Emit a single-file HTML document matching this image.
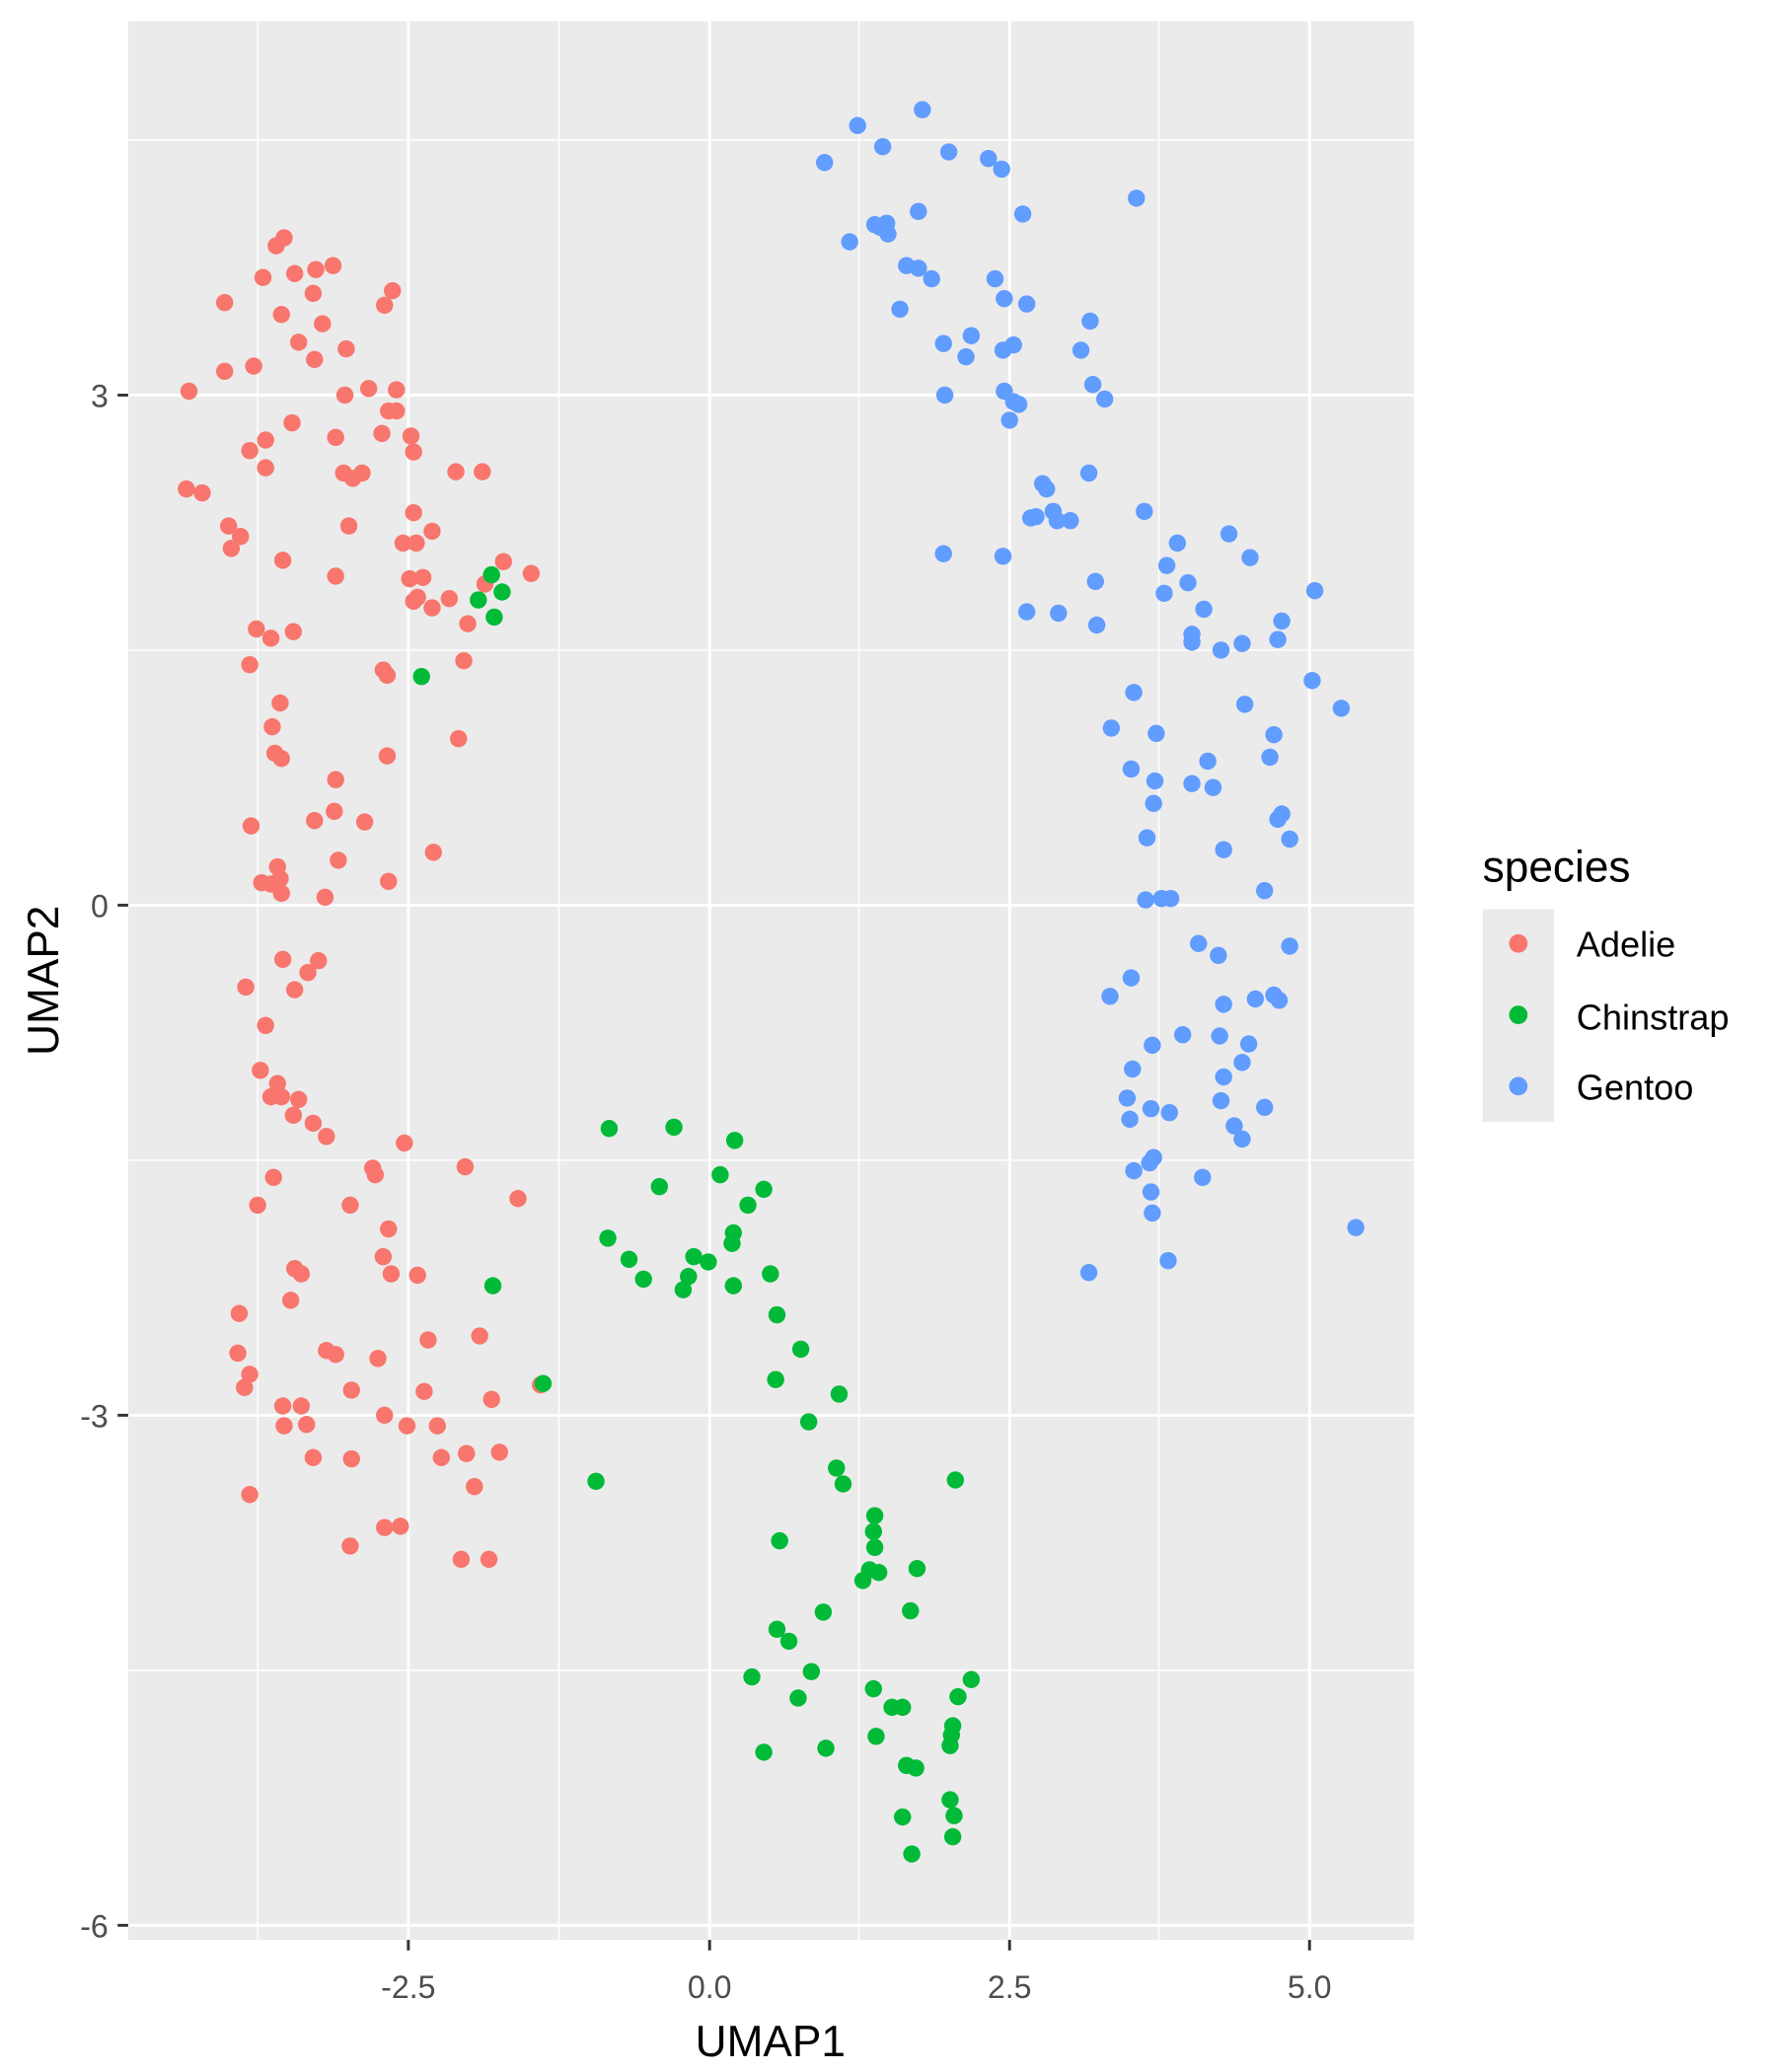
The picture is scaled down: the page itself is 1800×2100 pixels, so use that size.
<!DOCTYPE html>
<html><head><meta charset="utf-8"><style>html,body{margin:0;padding:0;background:#fff}svg{display:block}</style></head>
<body>
<svg xmlns="http://www.w3.org/2000/svg" width="1800" height="2100" viewBox="0 0 1344 1568" font-family="Liberation Sans, Arial, sans-serif">
<rect width="1344" height="1568" fill="#fff"/>
<rect x="97" y="16" width="973" height="1452" fill="#EBEBEB"/>
<g stroke="#fff" stroke-width="1.1">
<line x1="195" y1="16" x2="195" y2="1468"/><line x1="423" y1="16" x2="423" y2="1468"/><line x1="650" y1="16" x2="650" y2="1468"/><line x1="877" y1="16" x2="877" y2="1468"/>
<line x1="97" y1="106" x2="1070" y2="106"/><line x1="97" y1="492" x2="1070" y2="492"/><line x1="97" y1="878" x2="1070" y2="878"/><line x1="97" y1="1264" x2="1070" y2="1264"/>
</g>
<g stroke="#fff" stroke-width="2.2">
<line x1="309" y1="16" x2="309" y2="1468"/><line x1="537" y1="16" x2="537" y2="1468"/><line x1="764" y1="16" x2="764" y2="1468"/><line x1="991" y1="16" x2="991" y2="1468"/>
<line x1="97" y1="299" x2="1070" y2="299"/><line x1="97" y1="685" x2="1070" y2="685"/><line x1="97" y1="1071" x2="1070" y2="1071"/><line x1="97" y1="1457" x2="1070" y2="1457"/>
</g>
<g stroke="#333" stroke-width="2.2">
<line x1="89" y1="299" x2="97" y2="299"/><line x1="89" y1="685" x2="97" y2="685"/><line x1="89" y1="1071" x2="97" y2="1071"/><line x1="89" y1="1457" x2="97" y2="1457"/>
<line x1="309" y1="1468" x2="309" y2="1476"/><line x1="537" y1="1468" x2="537" y2="1476"/><line x1="764" y1="1468" x2="764" y2="1476"/><line x1="991" y1="1468" x2="991" y2="1476"/>
</g>
<g fill="#4D4D4D" font-size="24" text-anchor="end">
<text x="82" y="308">3</text><text x="82" y="694">0</text><text x="82" y="1080">-3</text><text x="82" y="1466">-6</text>
</g>
<g fill="#4D4D4D" font-size="24" text-anchor="middle">
<text x="309" y="1512">-2.5</text><text x="537" y="1512">0.0</text><text x="764" y="1512">2.5</text><text x="991" y="1512">5.0</text>
</g>
<text x="583" y="1556" font-size="33" text-anchor="middle" fill="#000">UMAP1</text>
<text transform="translate(44,742) rotate(-90)" font-size="33" text-anchor="middle" fill="#000">UMAP2</text>
<g fill="#F8766D">
<circle cx="143" cy="296" r="6.5"/><circle cx="170" cy="229" r="6.5"/><circle cx="170" cy="281" r="6.5"/><circle cx="199" cy="210" r="6.5"/><circle cx="215" cy="180" r="6.5"/><circle cx="209" cy="186" r="6.5"/><circle cx="223" cy="207" r="6.5"/><circle cx="239" cy="204" r="6.5"/><circle cx="252" cy="201" r="6.5"/><circle cx="297" cy="220" r="6.5"/><circle cx="291" cy="231" r="6.5"/><circle cx="213" cy="238" r="6.5"/><circle cx="244" cy="245" r="6.5"/><circle cx="237" cy="222" r="6.5"/><circle cx="226" cy="259" r="6.5"/><circle cx="238" cy="272" r="6.5"/><circle cx="262" cy="264" r="6.5"/><circle cx="192" cy="277" r="6.5"/><circle cx="189" cy="341" r="6.5"/><circle cx="201" cy="333" r="6.5"/><circle cx="201" cy="354" r="6.5"/><circle cx="221" cy="320" r="6.5"/><circle cx="261" cy="299" r="6.5"/><circle cx="254" cy="331" r="6.5"/><circle cx="279" cy="294" r="6.5"/><circle cx="300" cy="295" r="6.5"/><circle cx="294" cy="311" r="6.5"/><circle cx="300" cy="311" r="6.5"/><circle cx="289" cy="328" r="6.5"/><circle cx="311" cy="330" r="6.5"/><circle cx="313" cy="342" r="6.5"/><circle cx="260" cy="358" r="6.5"/><circle cx="267" cy="362" r="6.5"/><circle cx="274" cy="358" r="6.5"/><circle cx="345" cy="357" r="6.5"/><circle cx="365" cy="357" r="6.5"/><circle cx="141" cy="370" r="6.5"/><circle cx="153" cy="373" r="6.5"/><circle cx="173" cy="398" r="6.5"/><circle cx="182" cy="406" r="6.5"/><circle cx="175" cy="415" r="6.5"/><circle cx="264" cy="398" r="6.5"/><circle cx="313" cy="388" r="6.5"/><circle cx="305" cy="411" r="6.5"/><circle cx="315" cy="411" r="6.5"/><circle cx="327" cy="402" r="6.5"/><circle cx="214" cy="424" r="6.5"/><circle cx="254" cy="436" r="6.5"/><circle cx="310" cy="438" r="6.5"/><circle cx="320" cy="437" r="6.5"/><circle cx="316" cy="452" r="6.5"/><circle cx="313" cy="455" r="6.5"/><circle cx="327" cy="460" r="6.5"/><circle cx="340" cy="453" r="6.5"/><circle cx="354" cy="472" r="6.5"/><circle cx="367" cy="442" r="6.5"/><circle cx="381" cy="425" r="6.5"/><circle cx="402" cy="434" r="6.5"/><circle cx="194" cy="476" r="6.5"/><circle cx="222" cy="478" r="6.5"/><circle cx="205" cy="483" r="6.5"/><circle cx="189" cy="503" r="6.5"/><circle cx="290" cy="507" r="6.5"/><circle cx="293" cy="511" r="6.5"/><circle cx="351" cy="500" r="6.5"/><circle cx="212" cy="532" r="6.5"/><circle cx="206" cy="550" r="6.5"/><circle cx="208" cy="570" r="6.5"/><circle cx="213" cy="574" r="6.5"/><circle cx="293" cy="572" r="6.5"/><circle cx="347" cy="559" r="6.5"/><circle cx="254" cy="590" r="6.5"/><circle cx="253" cy="614" r="6.5"/><circle cx="238" cy="621" r="6.5"/><circle cx="276" cy="622" r="6.5"/><circle cx="190" cy="625" r="6.5"/><circle cx="256" cy="651" r="6.5"/><circle cx="328" cy="645" r="6.5"/><circle cx="198" cy="668" r="6.5"/><circle cx="210" cy="656" r="6.5"/><circle cx="212" cy="665" r="6.5"/><circle cx="205" cy="669" r="6.5"/><circle cx="213" cy="676" r="6.5"/><circle cx="246" cy="679" r="6.5"/><circle cx="294" cy="667" r="6.5"/><circle cx="214" cy="726" r="6.5"/><circle cx="241" cy="727" r="6.5"/><circle cx="233" cy="736" r="6.5"/><circle cx="223" cy="749" r="6.5"/><circle cx="186" cy="747" r="6.5"/><circle cx="201" cy="776" r="6.5"/><circle cx="197" cy="810" r="6.5"/><circle cx="210" cy="820" r="6.5"/><circle cx="205" cy="830" r="6.5"/><circle cx="226" cy="832" r="6.5"/><circle cx="213" cy="830" r="6.5"/><circle cx="222" cy="844" r="6.5"/><circle cx="237" cy="850" r="6.5"/><circle cx="247" cy="860" r="6.5"/><circle cx="306" cy="865" r="6.5"/><circle cx="282" cy="884" r="6.5"/><circle cx="284" cy="889" r="6.5"/><circle cx="352" cy="883" r="6.5"/><circle cx="207" cy="891" r="6.5"/><circle cx="195" cy="912" r="6.5"/><circle cx="265" cy="912" r="6.5"/><circle cx="392" cy="907" r="6.5"/><circle cx="294" cy="930" r="6.5"/><circle cx="290" cy="951" r="6.5"/><circle cx="296" cy="964" r="6.5"/><circle cx="316" cy="965" r="6.5"/><circle cx="223" cy="960" r="6.5"/><circle cx="228" cy="964" r="6.5"/><circle cx="220" cy="984" r="6.5"/><circle cx="181" cy="994" r="6.5"/><circle cx="180" cy="1024" r="6.5"/><circle cx="189" cy="1040" r="6.5"/><circle cx="185" cy="1050" r="6.5"/><circle cx="247" cy="1022" r="6.5"/><circle cx="254" cy="1025" r="6.5"/><circle cx="286" cy="1028" r="6.5"/><circle cx="324" cy="1014" r="6.5"/><circle cx="363" cy="1011" r="6.5"/><circle cx="266" cy="1052" r="6.5"/><circle cx="321" cy="1053" r="6.5"/><circle cx="372" cy="1059" r="6.5"/><circle cx="409" cy="1048" r="6.5"/><circle cx="214" cy="1064" r="6.5"/><circle cx="228" cy="1064" r="6.5"/><circle cx="215" cy="1079" r="6.5"/><circle cx="232" cy="1078" r="6.5"/><circle cx="291" cy="1071" r="6.5"/><circle cx="308" cy="1079" r="6.5"/><circle cx="331" cy="1079" r="6.5"/><circle cx="237" cy="1103" r="6.5"/><circle cx="266" cy="1104" r="6.5"/><circle cx="334" cy="1103" r="6.5"/><circle cx="353" cy="1100" r="6.5"/><circle cx="378" cy="1099" r="6.5"/><circle cx="359" cy="1125" r="6.5"/><circle cx="189" cy="1131" r="6.5"/><circle cx="291" cy="1156" r="6.5"/><circle cx="303" cy="1155" r="6.5"/><circle cx="265" cy="1170" r="6.5"/><circle cx="349" cy="1180" r="6.5"/><circle cx="370" cy="1180" r="6.5"/>
</g>
<g fill="#00BA38">
<circle cx="372" cy="435" r="6.5"/><circle cx="380" cy="448" r="6.5"/><circle cx="362" cy="454" r="6.5"/><circle cx="374" cy="467" r="6.5"/><circle cx="319" cy="512" r="6.5"/><circle cx="373" cy="973" r="6.5"/><circle cx="411" cy="1047" r="6.5"/><circle cx="451" cy="1121" r="6.5"/><circle cx="461" cy="854" r="6.5"/><circle cx="510" cy="853" r="6.5"/><circle cx="556" cy="863" r="6.5"/><circle cx="545" cy="889" r="6.5"/><circle cx="499" cy="898" r="6.5"/><circle cx="578" cy="900" r="6.5"/><circle cx="566" cy="912" r="6.5"/><circle cx="460" cy="937" r="6.5"/><circle cx="476" cy="953" r="6.5"/><circle cx="487" cy="968" r="6.5"/><circle cx="555" cy="933" r="6.5"/><circle cx="554" cy="941" r="6.5"/><circle cx="525" cy="951" r="6.5"/><circle cx="536" cy="955" r="6.5"/><circle cx="521" cy="966" r="6.5"/><circle cx="517" cy="976" r="6.5"/><circle cx="555" cy="973" r="6.5"/><circle cx="583" cy="964" r="6.5"/><circle cx="588" cy="995" r="6.5"/><circle cx="606" cy="1021" r="6.5"/><circle cx="587" cy="1044" r="6.5"/><circle cx="635" cy="1055" r="6.5"/><circle cx="612" cy="1076" r="6.5"/><circle cx="633" cy="1111" r="6.5"/><circle cx="638" cy="1123" r="6.5"/><circle cx="723" cy="1120" r="6.5"/><circle cx="662" cy="1147" r="6.5"/><circle cx="661" cy="1159" r="6.5"/><circle cx="662" cy="1171" r="6.5"/><circle cx="590" cy="1166" r="6.5"/><circle cx="694" cy="1187" r="6.5"/><circle cx="658" cy="1188" r="6.5"/><circle cx="665" cy="1190" r="6.5"/><circle cx="653" cy="1196" r="6.5"/><circle cx="689" cy="1219" r="6.5"/><circle cx="623" cy="1220" r="6.5"/><circle cx="588" cy="1233" r="6.5"/><circle cx="597" cy="1242" r="6.5"/><circle cx="614" cy="1265" r="6.5"/><circle cx="569" cy="1269" r="6.5"/><circle cx="735" cy="1271" r="6.5"/><circle cx="661" cy="1278" r="6.5"/><circle cx="725" cy="1284" r="6.5"/><circle cx="604" cy="1285" r="6.5"/><circle cx="675" cy="1292" r="6.5"/><circle cx="683" cy="1292" r="6.5"/><circle cx="721" cy="1306" r="6.5"/><circle cx="720" cy="1313" r="6.5"/><circle cx="663" cy="1314" r="6.5"/><circle cx="719" cy="1321" r="6.5"/><circle cx="578" cy="1326" r="6.5"/><circle cx="625" cy="1323" r="6.5"/><circle cx="686" cy="1336" r="6.5"/><circle cx="693" cy="1338" r="6.5"/><circle cx="719" cy="1362" r="6.5"/><circle cx="722" cy="1374" r="6.5"/><circle cx="683" cy="1375" r="6.5"/><circle cx="721" cy="1390" r="6.5"/><circle cx="690" cy="1403" r="6.5"/>
</g>
<g fill="#619CFF">
<circle cx="698" cy="83" r="6.5"/><circle cx="649" cy="95" r="6.5"/><circle cx="668" cy="111" r="6.5"/><circle cx="718" cy="115" r="6.5"/><circle cx="624" cy="123" r="6.5"/><circle cx="748" cy="120" r="6.5"/><circle cx="758" cy="128" r="6.5"/><circle cx="860" cy="150" r="6.5"/><circle cx="695" cy="160" r="6.5"/><circle cx="774" cy="162" r="6.5"/><circle cx="662" cy="170" r="6.5"/><circle cx="671" cy="169" r="6.5"/><circle cx="643" cy="183" r="6.5"/><circle cx="666" cy="172" r="6.5"/><circle cx="672" cy="177" r="6.5"/><circle cx="686" cy="201" r="6.5"/><circle cx="695" cy="203" r="6.5"/><circle cx="705" cy="211" r="6.5"/><circle cx="753" cy="211" r="6.5"/><circle cx="760" cy="226" r="6.5"/><circle cx="681" cy="234" r="6.5"/><circle cx="777" cy="230" r="6.5"/><circle cx="825" cy="243" r="6.5"/><circle cx="735" cy="254" r="6.5"/><circle cx="714" cy="260" r="6.5"/><circle cx="767" cy="261" r="6.5"/><circle cx="731" cy="270" r="6.5"/><circle cx="759" cy="265" r="6.5"/><circle cx="818" cy="265" r="6.5"/><circle cx="827" cy="291" r="6.5"/><circle cx="715" cy="299" r="6.5"/><circle cx="760" cy="296" r="6.5"/><circle cx="767" cy="304" r="6.5"/><circle cx="771" cy="306" r="6.5"/><circle cx="836" cy="302" r="6.5"/><circle cx="764" cy="318" r="6.5"/><circle cx="824" cy="358" r="6.5"/><circle cx="789" cy="366" r="6.5"/><circle cx="792" cy="370" r="6.5"/><circle cx="797" cy="387" r="6.5"/><circle cx="810" cy="394" r="6.5"/><circle cx="800" cy="394" r="6.5"/><circle cx="780" cy="392" r="6.5"/><circle cx="784" cy="391" r="6.5"/><circle cx="866" cy="387" r="6.5"/><circle cx="891" cy="411" r="6.5"/><circle cx="930" cy="404" r="6.5"/><circle cx="946" cy="422" r="6.5"/><circle cx="883" cy="428" r="6.5"/><circle cx="899" cy="441" r="6.5"/><circle cx="714" cy="419" r="6.5"/><circle cx="759" cy="421" r="6.5"/><circle cx="829" cy="440" r="6.5"/><circle cx="995" cy="447" r="6.5"/><circle cx="881" cy="449" r="6.5"/><circle cx="911" cy="461" r="6.5"/><circle cx="970" cy="470" r="6.5"/><circle cx="777" cy="463" r="6.5"/><circle cx="801" cy="464" r="6.5"/><circle cx="830" cy="473" r="6.5"/><circle cx="902" cy="480" r="6.5"/><circle cx="902" cy="486" r="6.5"/><circle cx="940" cy="487" r="6.5"/><circle cx="924" cy="492" r="6.5"/><circle cx="967" cy="484" r="6.5"/><circle cx="993" cy="515" r="6.5"/><circle cx="858" cy="524" r="6.5"/><circle cx="1015" cy="536" r="6.5"/><circle cx="942" cy="533" r="6.5"/><circle cx="841" cy="551" r="6.5"/><circle cx="875" cy="555" r="6.5"/><circle cx="964" cy="556" r="6.5"/><circle cx="961" cy="573" r="6.5"/><circle cx="856" cy="582" r="6.5"/><circle cx="914" cy="576" r="6.5"/><circle cx="874" cy="591" r="6.5"/><circle cx="902" cy="593" r="6.5"/><circle cx="918" cy="596" r="6.5"/><circle cx="873" cy="608" r="6.5"/><circle cx="970" cy="616" r="6.5"/><circle cx="967" cy="620" r="6.5"/><circle cx="868" cy="634" r="6.5"/><circle cx="976" cy="635" r="6.5"/><circle cx="926" cy="643" r="6.5"/><circle cx="957" cy="674" r="6.5"/><circle cx="867" cy="681" r="6.5"/><circle cx="879" cy="680" r="6.5"/><circle cx="886" cy="680" r="6.5"/><circle cx="907" cy="714" r="6.5"/><circle cx="976" cy="716" r="6.5"/><circle cx="922" cy="723" r="6.5"/><circle cx="856" cy="740" r="6.5"/><circle cx="840" cy="754" r="6.5"/><circle cx="926" cy="760" r="6.5"/><circle cx="950" cy="756" r="6.5"/><circle cx="964" cy="753" r="6.5"/><circle cx="968" cy="757" r="6.5"/><circle cx="872" cy="791" r="6.5"/><circle cx="895" cy="783" r="6.5"/><circle cx="923" cy="784" r="6.5"/><circle cx="945" cy="790" r="6.5"/><circle cx="857" cy="809" r="6.5"/><circle cx="940" cy="804" r="6.5"/><circle cx="926" cy="815" r="6.5"/><circle cx="924" cy="833" r="6.5"/><circle cx="853" cy="831" r="6.5"/><circle cx="871" cy="839" r="6.5"/><circle cx="957" cy="838" r="6.5"/><circle cx="855" cy="847" r="6.5"/><circle cx="885" cy="842" r="6.5"/><circle cx="934" cy="852" r="6.5"/><circle cx="940" cy="862" r="6.5"/><circle cx="873" cy="876" r="6.5"/><circle cx="858" cy="886" r="6.5"/><circle cx="870" cy="880" r="6.5"/><circle cx="910" cy="891" r="6.5"/><circle cx="871" cy="902" r="6.5"/><circle cx="872" cy="918" r="6.5"/><circle cx="1026" cy="929" r="6.5"/><circle cx="884" cy="954" r="6.5"/><circle cx="824" cy="963" r="6.5"/>
</g>
<text x="1122" y="667" font-size="33" fill="#000">species</text>
<rect x="1122" y="688" width="54" height="161" fill="#EBEBEB"/>
<circle cx="1149" cy="714" r="7" fill="#F8766D"/>
<circle cx="1149" cy="768" r="7" fill="#00BA38"/>
<circle cx="1149" cy="822" r="7" fill="#619CFF"/>
<g font-size="27" fill="#000">
<text x="1193" y="724">Adelie</text><text x="1193" y="779">Chinstrap</text><text x="1193" y="832">Gentoo</text>
</g>
</svg>
</body></html>
